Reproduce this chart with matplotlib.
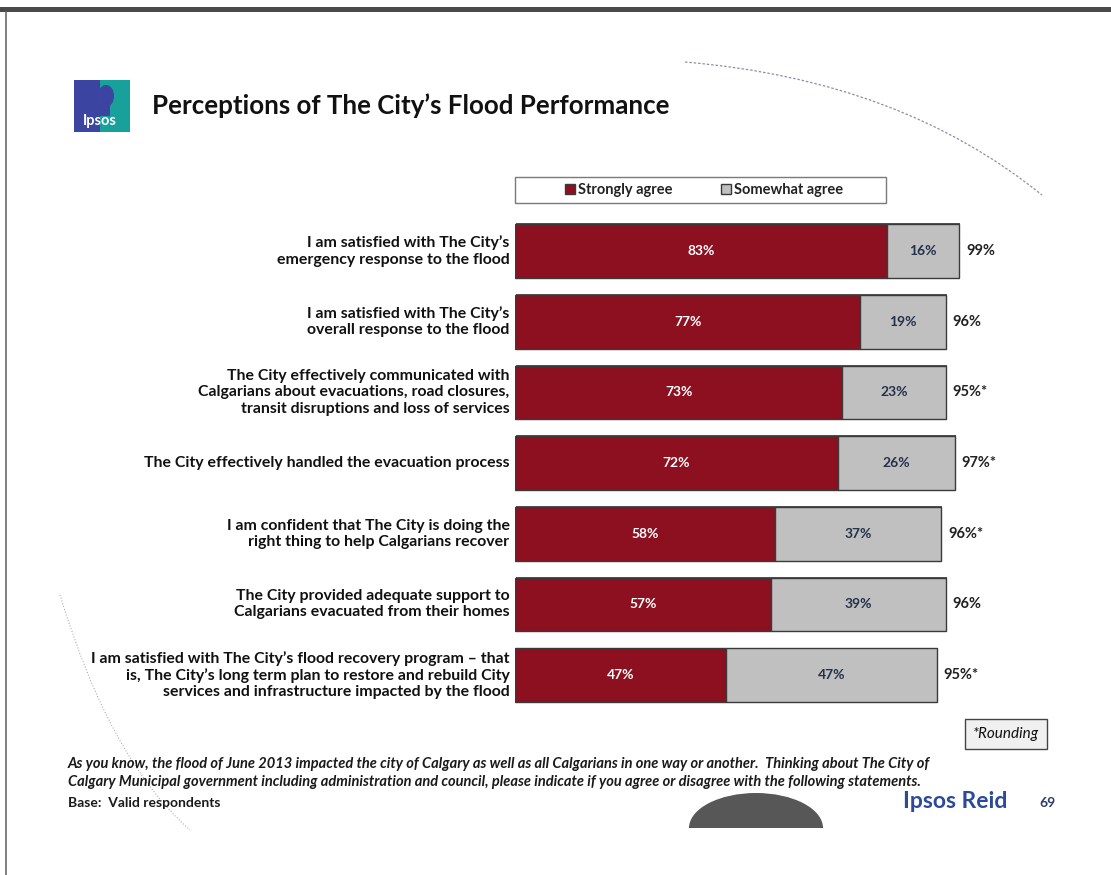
import matplotlib.pyplot as plt
import matplotlib.patches as patches
from matplotlib.patches import Ellipse, PathPatch
from matplotlib.path import Path

# Survey statements (top to bottom) and shares
statements = [
    "I am satisfied with The City\u2019s\nemergency response to the flood",
    "I am satisfied with The City\u2019s\noverall response to the flood",
    "The City effectively communicated with\nCalgarians about evacuations, road closures,\ntransit disruptions and loss of services",
    "The City effectively handled the evacuation process",
    "I am confident that The City is doing the\nright thing to help Calgarians recover",
    "The City provided adequate support to\nCalgarians evacuated from their homes",
    "I am satisfied with The City\u2019s flood recovery program \u2013 that\nis, The City\u2019s long term plan to restore and rebuild City\nservices and infrastructure impacted by the flood",
]
strongly = [83, 77, 73, 72, 58, 57, 47]
somewhat = [16, 19, 23, 26, 37, 39, 47]
totals = ["99%", "96%", "95%*", "97%*", "96%*", "96%", "95%*"]

RED = "#8c1020"
GRAY = "#c0c0c0"
EDGE = "#3a3a3a"
FONT = "Lato"

W, H = 1111, 875
fig = plt.figure(figsize=(W / 100, H / 100), dpi=100)
fig.patch.set_facecolor("white")


def fx(px):
    return px / W


def fy(py):
    return 1 - py / H


# page frame: dark band on top and thin line on the left
fig.patches.append(patches.Rectangle((0, fy(12)), 1, fy(7) - fy(12), transform=fig.transFigure,
                                     facecolor="#4a4a4a", edgecolor="none"))
fig.lines.append(plt.Line2D([fx(6), fx(6)], [0, fy(12)], transform=fig.transFigure,
                            color="#6a6a6a", lw=1.2))

# decorative layer in pixel coordinates
deco = fig.add_axes([0, 0, 1, 1], zorder=-5)
deco.set_xlim(0, W)
deco.set_ylim(H, 0)
deco.axis("off")
deco.add_patch(PathPatch(Path([(685, 62), (900, 80), (1042, 195)],
                              [Path.MOVETO, Path.CURVE3, Path.CURVE3]),
                         facecolor="none", edgecolor="#8a90a8", lw=0.9, ls=(0, (2, 1.5))))
deco.add_patch(PathPatch(Path([(60, 595), (110, 760), (190, 830)],
                              [Path.MOVETO, Path.CURVE3, Path.CURVE3]),
                         facecolor="none", edgecolor="#9a9a9a", lw=0.7, ls=(0, (1, 2))))
deco.add_patch(Ellipse((756, 828), 134, 70, facecolor="#575757", edgecolor="none"))
deco.add_patch(patches.Rectangle((680, 828), 160, 60, facecolor="white", edgecolor="none"))

# Ipsos logo
deco.add_patch(patches.Rectangle((74, 80), 56, 52, facecolor="#17a19a", edgecolor="none"))
deco.add_patch(patches.Rectangle((74, 80), 26, 52, facecolor="#3b44a0", edgecolor="none"))
deco.add_patch(Ellipse((106, 96), 16, 22, facecolor="#3b44a0", edgecolor="none"))
deco.add_patch(patches.Rectangle((98, 104), 12, 12, facecolor="#3b44a0", edgecolor="none"))
deco.text(100, 121, "Ipsos", color="white", fontsize=10.5, fontweight="bold",
          family=FONT, ha="center", va="center")

# title
fig.text(fx(152), fy(106), "Perceptions of The City\u2019s Flood Performance",
         fontsize=18.6, fontweight="bold", family=FONT, ha="left", va="center", color="#111111")

# main bar axes: x=0 at 515 px, 4.485 px per percent
left_px, px_per = 515, 4.485
top_px, bot_px = 215.7, 710.4
ax = fig.add_axes([fx(left_px), fy(bot_px), fx(W - left_px), (bot_px - top_px) / H])
ax.set_xlim(0, (W - left_px) / px_per)
ax.set_ylim(len(statements) - 0.5, -0.5)
ax.axis("off")

ys = list(range(len(statements)))
h = 0.76
ends = [s + m for s, m in zip(strongly, somewhat)]
ax.barh(ys, ends, height=h + 0.02, left=0.3, color="#555555", edgecolor="none", zorder=1)
b1 = ax.barh(ys, strongly, height=h, color=RED, edgecolor=EDGE, lw=1.0,
             label="Strongly agree", zorder=2)
b2 = ax.barh(ys, somewhat, height=h, left=strongly, color=GRAY, edgecolor=EDGE, lw=1.0,
             label="Somewhat agree", zorder=2)

for y, s, m, t, lab in zip(ys, strongly, somewhat, totals, statements):
    ax.text(s / 2, y, f"{s}%", color="white", fontsize=10, fontweight="bold",
            family=FONT, ha="center", va="center", zorder=3)
    ax.text(s + m / 2, y, f"{m}%", color="#25304a", fontsize=10, fontweight="bold",
            family=FONT, ha="center", va="center", zorder=3)
    ax.text(s + m + 1.6, y, t, color="#222222", fontsize=10.5, fontweight="bold",
            family=FONT, ha="left", va="center", zorder=3)
    ax.text(-1.2, y, lab, color="#111111", fontsize=11.4, fontweight="bold",
            family=FONT, ha="right", va="center", linespacing=1.2, clip_on=False)

# legend with a wide frame
deco.add_patch(patches.Rectangle((515, 177), 371, 26, facecolor="white",
                                 edgecolor="#7a7a7a", lw=1.0, zorder=1))
leg = fig.legend(handles=[b1, b2], loc="center", bbox_to_anchor=(fx(704), fy(190)),
                 ncol=2, frameon=False,
                 prop={"family": FONT, "size": 10.5, "weight": "bold"},
                 handlelength=0.7, handleheight=0.7, handletextpad=0.2,
                 columnspacing=3.3)
for t in leg.get_texts():
    t.set_color("#222222")

# rounding note
fig.text(fx(1006), fy(734), "*Rounding", fontsize=11, style="italic", family=FONT,
         ha="center", va="center", color="#111111",
         bbox=dict(boxstyle="square,pad=0.55", facecolor="#f0f0f0", edgecolor="#444444", lw=1.0))

# footnotes
fig.text(fx(68), fy(764),
         "As you know, the flood of June 2013 impacted the city of Calgary as well as all Calgarians in one way or another.  Thinking about The City of",
         fontsize=10.55, style="italic", fontweight="bold", family=FONT, color="#1a1a1a",
         ha="left", va="center")
fig.text(fx(68), fy(782),
         "Calgary Municipal government including administration and council, please indicate if you agree or disagree with the following statements.",
         fontsize=10.55, style="italic", fontweight="bold", family=FONT, color="#1a1a1a",
         ha="left", va="center")
fig.text(fx(68), fy(803), "Base:  Valid respondents", fontsize=10, fontweight="bold",
         family=FONT, color="#1a1a1a", ha="left", va="center")

fig.text(fx(903), fy(802), "Ipsos Reid", fontsize=16.5, fontweight="bold", family=FONT,
         color="#2b4a9a", ha="left", va="center")
fig.text(fx(1047), fy(803), "69", fontsize=10, fontweight="bold", family=FONT,
         color="#2f3e66", ha="center", va="center")

fig.savefig("out.png", dpi=100, facecolor="white")
